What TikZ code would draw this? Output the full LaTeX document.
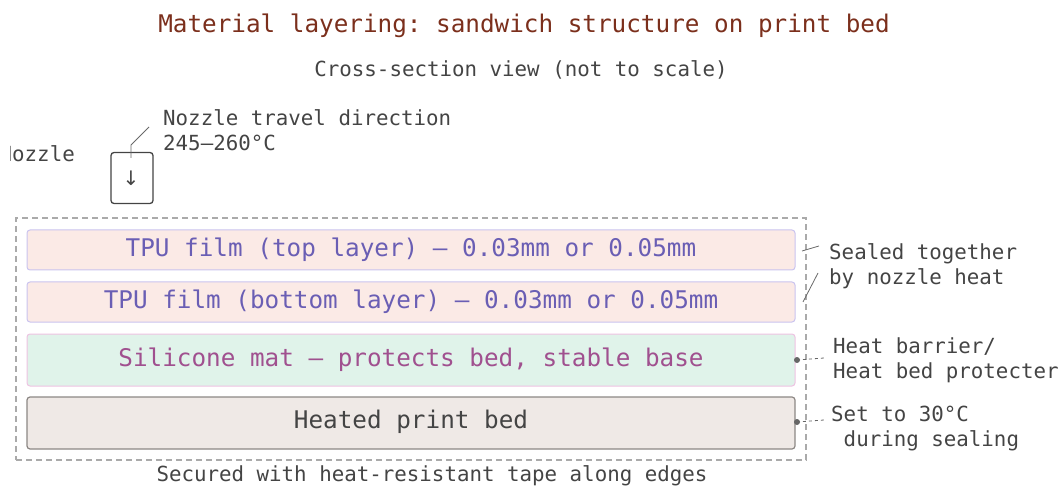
\documentclass[tikz,border=0pt]{standalone}
\usepackage{fontspec}
\setmonofont{DejaVu Sans Mono}
\definecolor{titlec}{HTML}{7B2F1C}
\definecolor{txtc}{HTML}{444444}
\definecolor{tpufill}{HTML}{FBEAE6}
\definecolor{tpudraw}{HTML}{C9C3EF}
\definecolor{tputext}{HTML}{6A5EB4}
\definecolor{silfill}{HTML}{E0F3EA}
\definecolor{sildraw}{HTML}{EEC2E2}
\definecolor{siltext}{HTML}{A0508F}
\definecolor{bedfill}{HTML}{EFE9E6}
\definecolor{beddraw}{HTML}{8C8784}
\definecolor{dashc}{HTML}{AAAAAA}
\definecolor{dotc}{HTML}{666666}
\tikzset{
  mono/.style={font=\ttfamily\fontsize{20.8}{25}\selectfont, text=txtc, inner sep=0pt},
  layertxt/.style={font=\ttfamily\fontsize{24.3}{28}\selectfont, inner sep=0pt},
  layer/.style={rounded corners=3pt, line width=1pt, inner sep=0pt},
  leader/.style={draw=txtc!80, line width=0.8pt},
  dleader/.style={draw=dotc, line width=0.8pt, dash pattern=on 3pt off 3pt},
}
\begin{document}
\begin{tikzpicture}[x=1pt,y=-1pt]
\useasboundingbox (0,0) rectangle (1060,486);
% titles
\node[font=\ttfamily\fontsize{24.3}{28}\selectfont, text=titlec, inner sep=0pt] (title) at (524,26) {Material layering: sandwich structure on print bed};
\node[mono] (sub) at (521,70) {Cross-section view (not to scale)};
% nozzle
\begin{scope}
\clip (10,130) rectangle (100,175);
\node[mono, anchor=east] (nozlab) at (75,154) {Nozzle};
\end{scope}
\node[draw=txtc, line width=1.3pt, rounded corners=3pt, minimum width=42pt, minimum height=51pt, inner sep=0pt] (noz) at (132,178) {};
\node[font=\fontspec{DejaVu Sans}\fontsize{20}{22}\selectfont, text=txtc, inner sep=0pt] (arr) at (131,178) {↓};
\node[mono, anchor=west, align=left] (travel) at (163,130) {Nozzle travel direction\\245–260°C};
\coordinate (nb) at (131,158);
\coordinate (nk) at (131,145);
\coordinate (nt) at (149,127);
\draw[leader] (nb) -- (nk) -- (nt);
% outer dashed frame
\node[draw=dashc, line width=1.1pt, dash pattern=on 6pt off 4pt, minimum width=790pt, minimum height=242pt, inner sep=0pt] (frame) at (411,339) {};
% layers
\node[layer, fill=tpufill, draw=tpudraw, minimum width=768pt, minimum height=40pt] (tpu1) at (411,250) {};
\node[layertxt, text=tputext] (tpu1t) at (411,250) {TPU film (top layer) — 0.03mm or 0.05mm};
\node[layer, fill=tpufill, draw=tpudraw, minimum width=768pt, minimum height=40pt] (tpu2) at (411,302) {};
\node[layertxt, text=tputext] (tpu2t) at (411,302) {TPU film (bottom layer) — 0.03mm or 0.05mm};
\node[layer, fill=silfill, draw=sildraw, minimum width=768pt, minimum height=52pt] (sil) at (411,360) {};
\node[layertxt, text=siltext] (silt) at (411,360) {Silicone mat — protects bed, stable base};
\node[layer, fill=bedfill, draw=beddraw, line width=1.2pt, minimum width=768pt, minimum height=52pt] (bed) at (411,423) {};
\node[layertxt, text=txtc] (bedt) at (411,422) {Heated print bed};
% bottom caption
\node[mono] (tape) at (432,476) {Secured with heat-resistant tape along edges};
% right annotations
\node[mono, anchor=west, align=left] (seal) at (829,266) {Sealed together\\by nozzle heat};
\coordinate (s1a) at (802,251);
\coordinate (s1b) at (819,246);
\coordinate (s2a) at (803,302);
\coordinate (s2b) at (818,273);
\draw[leader] (s1a) -- (s1b);
\draw[leader] (s2a) -- (s2b);
\node[mono, anchor=west, align=left] (barrier) at (833,360) {Heat barrier/\\Heat bed protecter};
\coordinate (d1) at (797,360);
\coordinate (d1e) at (824,358);
\fill[dotc] (d1) circle (3pt);
\draw[dleader] (d1) -- (d1e);
\node[mono, anchor=west, align=left] (set) at (831,429) {Set to 30°C\\\ during sealing};
\coordinate (d2) at (797,422);
\coordinate (d2e) at (824,420);
\fill[dotc] (d2) circle (3pt);
\draw[dleader] (d2) -- (d2e);
\end{tikzpicture}
\end{document}
